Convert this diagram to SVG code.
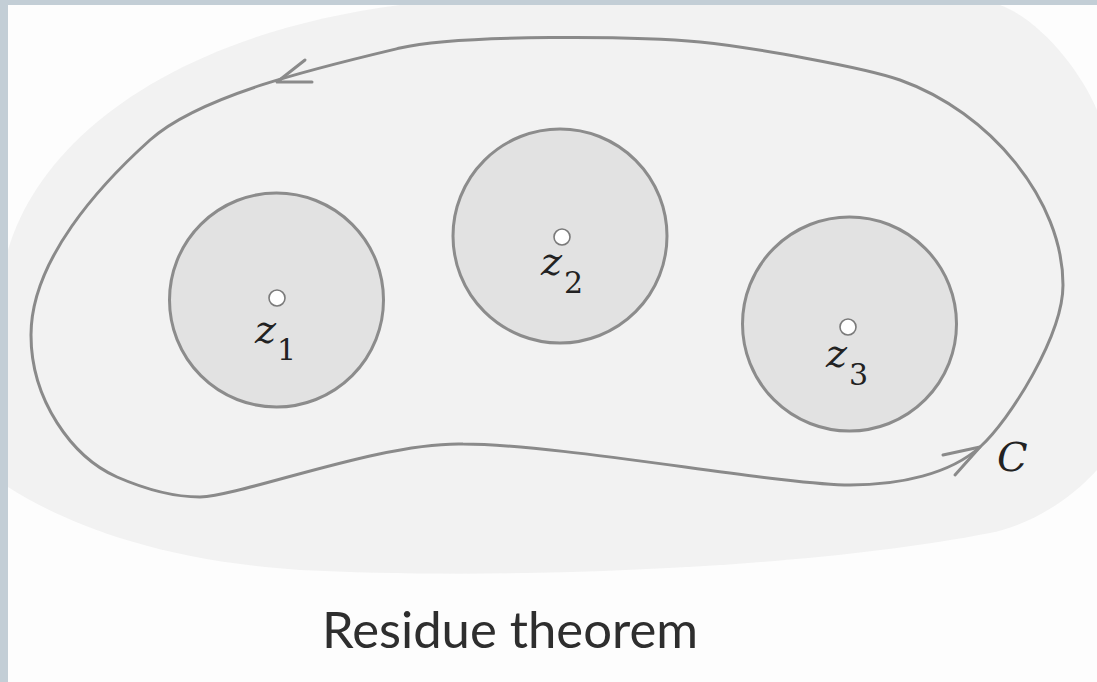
<svg xmlns="http://www.w3.org/2000/svg" width="1097" height="682" viewBox="0 0 1097 682">
  <style>
    .disk { fill: #e2e2e2; stroke: #8c8c8c; stroke-width: 3; }
    .pole { fill: #ffffff; stroke: #7a7a7a; stroke-width: 1.6; }
    .contour { fill: none; stroke: #8a8a8a; stroke-width: 3; stroke-linecap: round; stroke-linejoin: round; }
    .zl { font-family: "DejaVu Serif", "Liberation Serif", serif; font-style: italic; font-size: 40px; fill: #222; }
    .sub { font-family: "DejaVu Serif", "Liberation Serif", serif; font-size: 30px; fill: #222; }
    .cl { font-family: "DejaVu Serif", "Liberation Serif", serif; font-style: italic; font-size: 40px; fill: #222; }
    .cap { font-family: Lato, "Open Sans", "Liberation Sans", sans-serif; font-size: 51px; fill: #2e2e2e; }
  </style>
  <rect x="0" y="0" width="1097" height="682" fill="#fdfdfd"/>
  <path d="M 8,250 C 40,140 170,35 400,5 L 1000,5 C 1040,20 1080,70 1097,110 L 1097,470 C 1070,500 1030,525 990,533 C 800,570 500,580 300,570 C 150,560 60,520 8,487 Z" fill="#f2f2f2"/>
  <rect x="0" y="0" width="1097" height="5" fill="#c3ced6"/>
  <rect x="0" y="0" width="8" height="682" fill="#c3ced6"/>

  <g id="connectors">
    <path id="contour-C" class="contour" d="M 980,447 C 1010,420 1063,335 1063,285 C 1063,200 990,112 900,80 C 865,67.5 750,47 700,42 C 640,36 460,34 400,48 C 320,67 200,95 150,140 C 100,185 31,260 31,335 C 31,400 72,457 117,477 C 147,490 175,497 200,497 C 245,495 380,442 463,444 C 560,444 780,485 850,485 C 900,485 950,474 980,447 Z"/>
    <path class="contour" d="M 305,60 L 277,82 L 312,82"/>
    <path class="contour" d="M 943,455 L 980,447 L 955,475"/>
  </g>

  <g id="z1">
    <circle class="disk" cx="276.5" cy="300" r="107"/>
    <circle class="pole" cx="277" cy="298" r="8"/>
    <text class="zl" x="255" y="343">z</text>
    <text class="sub" x="277" y="360">1</text>
  </g>
  <g id="z2">
    <circle class="disk" cx="560" cy="236" r="107"/>
    <circle class="pole" cx="562" cy="237" r="8"/>
    <text class="zl" x="541" y="275">z</text>
    <text class="sub" x="564" y="293">2</text>
  </g>
  <g id="z3">
    <circle class="disk" cx="849.5" cy="324" r="107"/>
    <circle class="pole" cx="848" cy="327" r="8"/>
    <text class="zl" x="826" y="367">z</text>
    <text class="sub" x="849" y="385">3</text>
  </g>
  <g id="label-C">
    <text class="cl" x="997" y="471">C</text>
  </g>
  <g id="caption">
    <text class="cap" x="322" y="648" textLength="376" lengthAdjust="spacingAndGlyphs">Residue theorem</text>
  </g>
</svg>
